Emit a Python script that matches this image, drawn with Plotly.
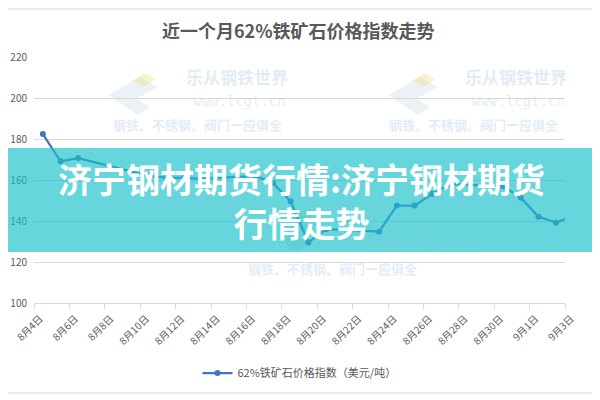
import plotly.graph_objects as go
import pandas as pd

# ---- data ----
dates = ["2021-08-04", "2021-08-05", "2021-08-06", "2021-08-09", "2021-08-10",
         "2021-08-11", "2021-08-12", "2021-08-13", "2021-08-16", "2021-08-17",
         "2021-08-18", "2021-08-19", "2021-08-20", "2021-08-23", "2021-08-24",
         "2021-08-25", "2021-08-26", "2021-08-27", "2021-08-30", "2021-08-31",
         "2021-09-01", "2021-09-02", "2021-09-03"]
values = [182.4, 169.1, 170.7, 164.0, 162.0,
          161.0, 161.0, 160.5, 162.0, 158.5,
          149.6, 129.5, 136.0, 134.8, 147.5,
          147.5, 153.3, 158.0, 157.0, 151.4,
          142.1, 139.2, 142.6]
tick_dates = ["2021-08-04", "2021-08-06", "2021-08-08", "2021-08-10", "2021-08-12",
              "2021-08-14", "2021-08-16", "2021-08-18", "2021-08-20", "2021-08-22",
              "2021-08-24", "2021-08-26", "2021-08-28", "2021-08-30", "2021-09-01",
              "2021-09-03"]
tick_labels = ["8月4日", "8月6日", "8月8日", "8月10日", "8月12日", "8月14日",
               "8月16日", "8月18日", "8月20日", "8月22日", "8月24日", "8月26日",
               "8月28日", "8月30日", "9月1日", "9月3日"]
series_name = "62%铁矿石价格指数（美元/吨）"
title_text = "近一个月62%铁矿石价格指数走势"
overlay_text = "济宁钢材期货行情:济宁钢材期货<br>行情走势"

# points sit in the middle of each day slot (Excel date axis, between tick marks)
x_pts = pd.to_datetime(dates) + pd.Timedelta(hours=12)

FONT = "Noto Sans CJK SC, sans-serif"
GREY = "#595959"

# page has an 8px body margin: figure drawn at (8, 8)
OFF = 8
W, H = 600 - OFF, 400 - OFF
# plot area geometry in page pixels
L, R, T, B = 34, 565, 57, 303


def px(x):
    return (x - L) / (R - L)


def py(y):
    return (B - y) / (B - T)


def ann(x, y, text, size, color, family=FONT):
    return dict(x=px(x), y=py(y), xref="paper", yref="paper", text=text,
                showarrow=False, xanchor="center", yanchor="middle",
                font=dict(family=family, size=size, color=color))


fig = go.Figure()
fig.add_trace(go.Scatter(
    x=x_pts, y=values, mode="lines+markers", name=series_name,
    line=dict(color="#4472C4", width=2.25),
    marker=dict(color="#4472C4", size=6),
))

annotations = []
# watermarks
wm_col = "rgba(150,185,225,0.28)"
for (c1, c3) in [(237, 197), (516, 473)]:
    annotations.append(ann(c1, 76, "<b>乐从钢铁世界</b>", 17, wm_col))
    annotations.append(ann(c1 + 2, 101, "www.lcgt.cn", 14, wm_col, "DejaVu Sans Mono"))
    annotations.append(ann(c3, 125, "<b>钢铁、不锈钢、阀门一应俱全</b>", 13, wm_col))
annotations.append(ann(332, 268, "<b>钢铁、不锈钢、阀门一应俱全</b>", 13, wm_col))
annotations.append(ann(425, 242, "www.lcgt.cn", 14, wm_col, "DejaVu Sans Mono"))

# title
annotations.append(ann(298, 30, "<b>" + title_text + "</b>", 18, GREY))
# overlay text
annotations.append(ann(301, 200, "<b>" + overlay_text + "</b>", 34, "white"))

shapes = []
# watermark logos (faint diamonds)
for (lx, ly) in [(140, 95), (420, 95), (300, 232)]:
    shapes.append(dict(type="path", xref="paper", yref="paper",
                       path=f"M {px(lx-32)} {py(ly)} L {px(lx)} {py(ly-18)} L {px(lx+18)} {py(ly-8)} "
                            f"L {px(lx-4)} {py(ly+4)} L {px(lx+10)} {py(ly+12)} L {px(lx-2)} {py(ly+20)} Z",
                       fillcolor="rgba(170,190,215,0.22)", line=dict(width=0), layer="below"))
    shapes.append(dict(type="path", xref="paper", yref="paper",
                       path=f"M {px(lx-8)} {py(ly-14)} L {px(lx+4)} {py(ly-22)} L {px(lx+16)} {py(ly-16)} "
                            f"L {px(lx+4)} {py(ly-8)} Z",
                       fillcolor="rgba(240,220,120,0.35)", line=dict(width=0), layer="below"))
# chart border lines top/bottom
for yy in (9, 393):
    shapes.append(dict(type="line", xref="paper", yref="paper",
                       x0=px(OFF), x1=px(600), y0=py(yy), y1=py(yy),
                       line=dict(color="#d9d9d9", width=1)))
# cyan band overlay
shapes.append(dict(type="rect", xref="paper", yref="paper",
                   x0=px(OFF), x1=px(600), y0=py(252), y1=py(148),
                   fillcolor="rgba(25,193,202,0.66)", line=dict(width=0), layer="above"))

fig.update_layout(
    width=W, height=H,
    margin=dict(l=L - OFF, r=600 - R, t=T - OFF, b=400 - B, autoexpand=False),
    paper_bgcolor="white", plot_bgcolor="white",
    font=dict(family=FONT, color=GREY),
    showlegend=True,
    legend=dict(orientation="h", x=0.5, xanchor="center", y=py(373), yanchor="middle",
                font=dict(family=FONT, size=11, color=GREY), bgcolor="rgba(0,0,0,0)"),
    annotations=annotations,
    shapes=shapes,
    xaxis=dict(
        type="date", automargin=False,
        range=[pd.Timestamp("2021-08-04"), pd.Timestamp("2021-09-03")],
        tickvals=pd.to_datetime(tick_dates), ticktext=tick_labels,
        tickangle=-45, tickfont=dict(family=FONT, size=10, color=GREY),
        ticklabelshift=6,
        showgrid=False, showline=True, linecolor="#d9d9d9", linewidth=1,
        ticks="outside", ticklen=5, tickcolor="#d9d9d9",
        zeroline=False,
    ),
    yaxis=dict(
        range=[100, 220], dtick=20, tick0=100, automargin=False,
        tickfont=dict(family=FONT, size=10, color=GREY),
        showgrid=True, gridcolor="#d9d9d9", gridwidth=1,
        showline=False, zeroline=False, ticks="", ticklabelstandoff=6,
    ),
)

fig.write_html("out.html")
